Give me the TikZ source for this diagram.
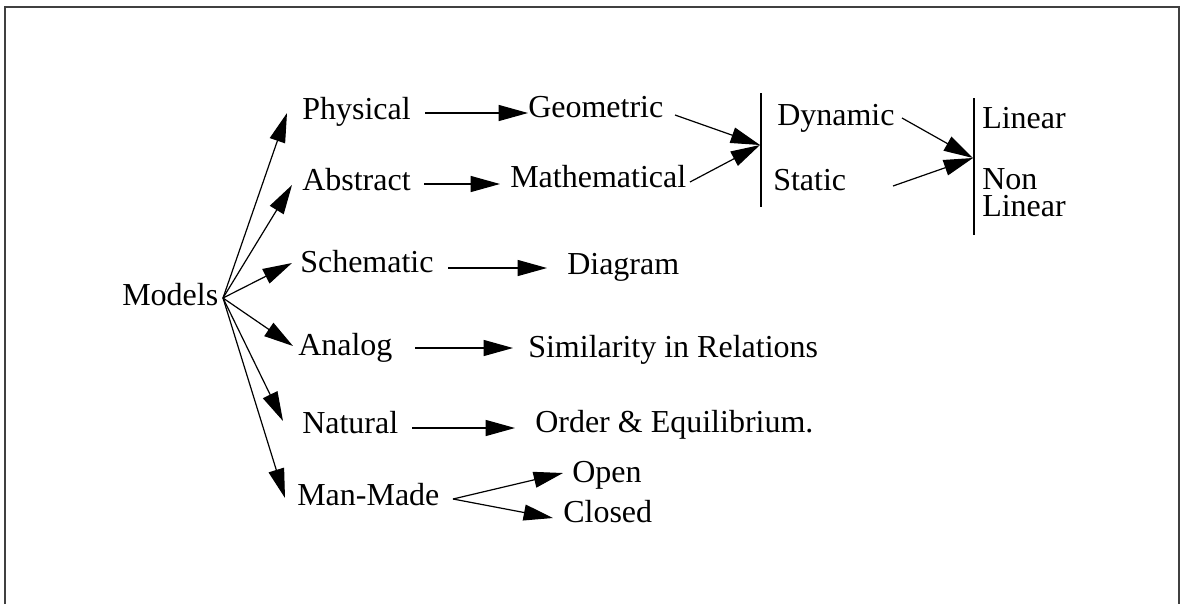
\documentclass[tikz,border=0pt]{standalone}
\usepackage{fontspec}
\setmainfont{Liberation Serif}
\usetikzlibrary{arrows.meta}
\begin{document}
\begin{tikzpicture}[x=0.75pt,y=-0.75pt,
  lbl/.style={anchor=base west, inner sep=0pt, font=\fontsize{24}{20.5}\selectfont},
  arr/.style={-{Triangle[length=22pt,width=12pt]}, line width=0.9pt},
  ln/.style={line width=0.8pt},
  frame/.style={line width=1.2pt, black!75}]
\useasboundingbox (0,0) rectangle (1181,604);
\draw[frame] (5,604) -- (5,7) -- (1179,7) -- (1179,604);

% labels
\node[lbl] (models) at (122,305) {Models};
\node[lbl] (phys) at (302,119) {Physical};
\node[lbl] (abs) at (302,190) {Abstract};
\node[lbl] (sch) at (300,272) {Schematic};
\node[lbl] (ana) at (298,355) {Analog};
\node[lbl] (nat) at (302,433) {Natural};
\node[lbl] (man) at (297,505) {Man-Made};
\node[lbl] (geo) at (528,117) {Geometric};
\node[lbl] (math) at (510,187) {Mathematical};
\node[lbl] (dia) at (567,274) {Diagram};
\node[lbl] (sim) at (528,357) {Similarity in Relations};
\node[lbl] (ord) at (535,432) {Order \& Equilibrium.};
\node[lbl] (open) at (572,482) {Open};
\node[lbl] (closed) at (563,522) {Closed};
\node[lbl] (dyn) at (777,125) {Dynamic};
\node[lbl] (stat) at (773,190) {Static};
\node[lbl] (lin) at (982,128) {Linear};
\node[lbl, anchor=north west, align=left] (nonlin) at (982,168) {Non\\Linear};

% connector points
\coordinate (mo) at (223,298);
\coordinate (tphys) at (287,113);
\coordinate (tabs) at (292,185);
\coordinate (tsch) at (292,263);
\coordinate (tana) at (293,346);
\coordinate (tnat) at (283,421);
\coordinate (tman) at (285,498);

\coordinate (b1t) at (761,93);
\coordinate (b1b) at (761,207);
\coordinate (b1) at (760,145);
\coordinate (b2t) at (974,98);
\coordinate (b2b) at (974,235);
\coordinate (b2) at (973,158);

\coordinate (sphys) at (425,113);
\coordinate (egeo) at (528,113);
\coordinate (sabs) at (424,184);
\coordinate (emath) at (500,184);
\coordinate (ssch) at (448,268);
\coordinate (edia) at (547,268);
\coordinate (sana) at (415,348);
\coordinate (esim) at (513,348);
\coordinate (snat) at (412,428);
\coordinate (eord) at (515,428);
\coordinate (sman) at (453,499);
\coordinate (eopen) at (563,473);
\coordinate (eclosed) at (553,518);
\coordinate (sgeo) at (675,115);
\coordinate (smath) at (690,182);
\coordinate (sdyn) at (902,118);
\coordinate (sstat) at (893,186);

% bars
\draw[ln] (b1t) -- (b1b);
\draw[ln] (b2t) -- (b2b);

% arrows from Models
\foreach \t in {tphys,tabs,tsch,tana,tnat,tman}
  \draw[arr] (mo) -- (\t);

% horizontal arrows
\draw[arr] (sphys) -- (egeo);
\draw[arr] (sabs) -- (emath);
\draw[arr] (ssch) -- (edia);
\draw[arr] (sana) -- (esim);
\draw[arr] (snat) -- (eord);
\draw[arr] (sman) -- (eopen);
\draw[arr] (sman) -- (eclosed);

% to bars
\draw[arr] (sgeo) -- (b1);
\draw[arr] (smath) -- (b1);
\draw[arr] (sdyn) -- (b2);
\draw[arr] (sstat) -- (b2);
\end{tikzpicture}
\end{document}
